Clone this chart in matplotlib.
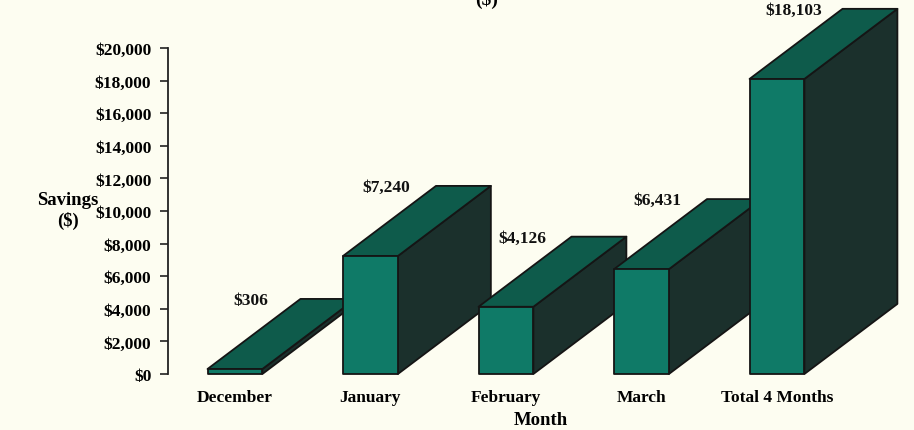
import matplotlib
matplotlib.use("Agg")
import matplotlib.pyplot as plt
from matplotlib.patches import Polygon
from matplotlib.ticker import FuncFormatter

categories = ["December", "January", "February", "March", "Total 4 Months"]
savings = [306, 7240, 4126, 6431, 18103]
value_labels = ["$306", "$7,240", "$4,126", "$6,431", "$18,103"]
yticks = list(range(0, 20001, 2000))

bg = "#fdfdf1"
front_c = "#0f7a67"
top_c = "#0e5b4b"
side_c = "#1b302c"
edge_c = "#151515"

plt.rcParams['font.family'] = ['Liberation Serif', 'DejaVu Serif']

fig = plt.figure(figsize=(9.14, 4.31), dpi=100, facecolor=bg)
ax = fig.add_axes([168/914, 56/431, 746/914, 326/431])
ax.set_facecolor(bg)
ax.set_xlim(-0.494, 5.011)
ax.set_ylim(0, 20000)

w = 0.405
dx = 0.686
dy = 4300

for i, v in enumerate(savings):
    x0, x1 = i - w/2, i + w/2
    z = 2 + i * 3
    side = Polygon([(x1, 0), (x1 + dx, dy), (x1 + dx, v + dy), (x1, v)],
                   closed=True, facecolor=side_c, edgecolor=edge_c, lw=1.3,
                   zorder=z, clip_on=False, joinstyle='round')
    top = Polygon([(x0, v), (x0 + dx, v + dy), (x1 + dx, v + dy), (x1, v)],
                  closed=True, facecolor=top_c, edgecolor=edge_c, lw=1.3,
                  zorder=z + 1, clip_on=False, joinstyle='round')
    front = Polygon([(x0, 0), (x0, v), (x1, v), (x1, 0)],
                    closed=True, facecolor=front_c, edgecolor=edge_c, lw=1.3,
                    zorder=z + 2, clip_on=False, joinstyle='round')
    ax.add_patch(side)
    ax.add_patch(top)
    ax.add_patch(front)
    ax.text(i + 0.12, v + dy - 50, value_labels[i], ha='center', va='center',
            fontsize=12.5, fontweight='bold', color='#111111', zorder=30,
            clip_on=False)

for s in ['top', 'right', 'bottom']:
    ax.spines[s].set_visible(False)
ax.spines['left'].set_color('#222222')
ax.spines['left'].set_linewidth(1.3)

ax.set_yticks(yticks)
ax.yaxis.set_major_formatter(FuncFormatter(lambda v, p: "${:,.0f}".format(v)))
ax.tick_params(axis='y', direction='out', length=6, width=1.2, color='#222222',
               labelsize=12.5, pad=6)
for lab in ax.get_yticklabels():
    lab.set_fontweight('bold')

ax.set_xticks(range(len(categories)))
ax.set_xticklabels(categories, fontsize=12.5, fontweight='bold')
ax.tick_params(axis='x', length=0, pad=11)

ax.set_xlabel("Month", fontsize=13.5, fontweight='bold', labelpad=4)
fig.text(68/914, 1 - 211/431, "Savings\n($)", ha='center', va='center',
         fontsize=13.5, fontweight='bold', linespacing=1.15)

fig.text(487/914, 1 - 5/431, "($)", ha='center', va='baseline',
         fontsize=14, fontweight='bold')

fig.savefig("out.png", dpi=100, facecolor=bg)
